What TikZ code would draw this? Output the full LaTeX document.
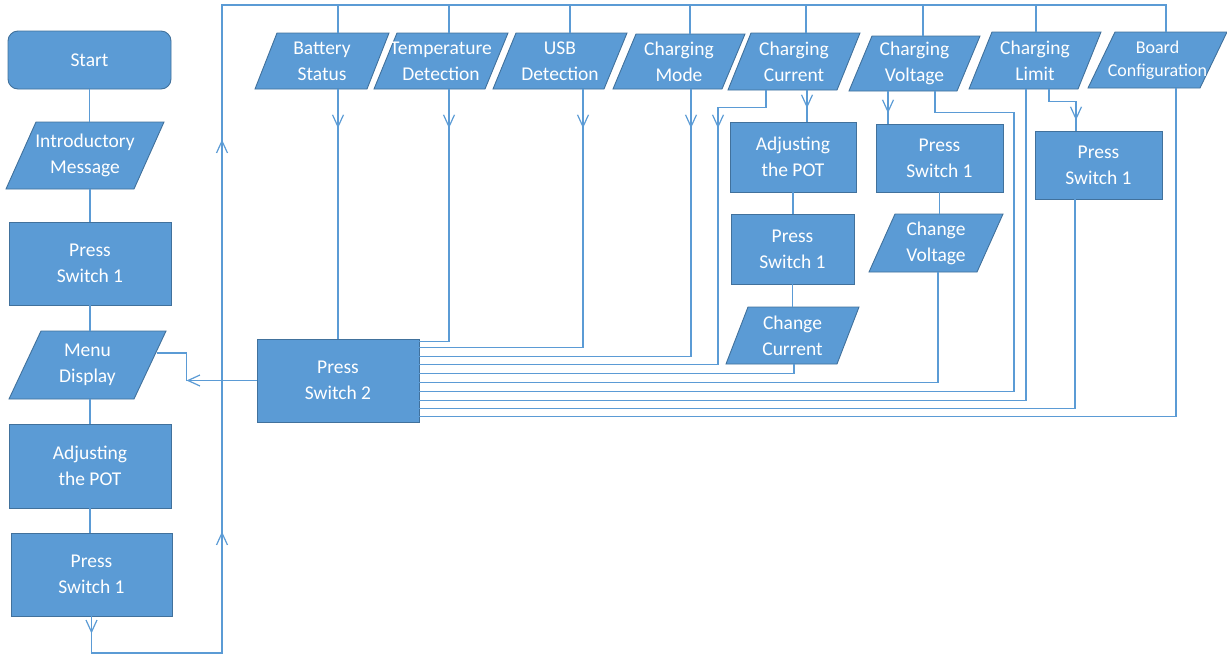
\documentclass[tikz,border=0pt]{standalone}
\usepackage{fontspec}
\setmainfont{Carlito}
\usetikzlibrary{arrows.meta,decorations.markings,calc}
\definecolor{boxfill}{HTML}{5B9BD5}
\definecolor{boxline}{HTML}{41719C}
\definecolor{linec}{HTML}{5B9BD5}
\tikzset{
  shapebox/.style={draw=boxline, fill=boxfill, line width=0.9pt},
  txt/.style={text=white, font=\fontsize{19.5}{26}\selectfont, align=center, inner sep=0pt},
  smalltxt/.style={text=white, font=\fontsize{18}{23}\selectfont, align=center, inner sep=0pt},
  rbox/.style={shapebox, txt, rectangle},
  conn/.style={draw=linec, line width=1.2pt},
  barb/.tip={Straight Barb[length=12pt,width=11pt]},
  midarrow/.style={postaction={decorate}, decoration={markings,
      mark=at position #1 with {\arrow[linec, line width=1.2pt]{barb}}}},
}
% parallelogram: name, cx, cy, W (total), s (slant), h, text, style
\newcommand{\pgm}[8]{%
  \filldraw[shapebox] (#2-#4/2, #3+#6/2) -- ++(#5,-#6) -- ++(#4-#5,0) -- ++(-#5,#6) -- cycle;
  \node[#8, minimum height=#6pt] (#1) at (#2,#3) {#7};
}
\begin{document}
\begin{tikzpicture}[x=1pt,y=-1pt]
\useasboundingbox (0,0) rectangle (1227,654);

% ---------- left column ----------
\node[rbox, rounded corners=10pt, minimum width=163pt, minimum height=58pt] (start) at (89.5,60) {Start};
\pgm{intro}{85}{155.5}{158}{30}{67}{Introductory\\Message}{txt}
\node[rbox, minimum width=162pt, minimum height=83pt] (ps1) at (90,263.5) {Press\\Switch 1};
\pgm{menu}{87.5}{365}{157}{32}{68}{Menu\\Display}{txt}
\node[rbox, minimum width=162pt, minimum height=84pt] (aj1) at (90,466) {Adjusting\\the POT};
\node[rbox, minimum width=161pt, minimum height=83pt] (ps1b) at (91.5,574.5) {Press\\Switch 1};

% ---------- Press Switch 2 ----------
\node[rbox, minimum width=162pt, minimum height=83pt] (ps2) at (338,380.5) {Press\\Switch 2};

% ---------- top row ----------
\pgm{bat}{322}{61}{134}{22}{56}{Battery\\Status}{txt}
\pgm{temp}{441}{61}{134}{23}{56}{Temperature\\Detection}{txt}
\pgm{usb}{560}{61}{134}{23}{56}{USB\\Detection}{txt}
\pgm{mode}{679}{61.5}{132}{23}{55}{Charging\\Mode}{txt}
\pgm{cur}{794}{61.5}{132}{23}{57}{Charging\\Current}{txt}
\pgm{volt}{914.5}{63.5}{131}{23}{55}{Charging\\Voltage}{txt}
\pgm{lim}{1035}{60.5}{132}{23}{57}{Charging\\Limit}{txt}
\pgm{board}{1157.5}{60}{139}{27}{56}{Board\\Configuration}{smalltxt}

% ---------- right column boxes ----------
\node[rbox, minimum width=126pt, minimum height=70pt] (aj2) at (793,157) {Adjusting\\the POT};
\node[rbox, minimum width=123pt, minimum height=70pt] (ps3) at (792.5,249) {Press\\Switch 1};
\pgm{cc}{792.5}{335.5}{133}{22}{57}{Change\\Current}{txt}
\node[rbox, minimum width=127pt, minimum height=68pt] (ps4) at (939.5,158) {Press\\Switch 1};
\pgm{cv}{936}{243}{134}{26}{58}{Change\\Voltage}{txt}
\node[rbox, minimum width=127pt, minimum height=68pt] (ps5) at (1098.5,165) {Press\\Switch 1};

% ---------- left column connectors ----------
\draw[conn] (start.south) -- (start.south |- intro.north);
\draw[conn] (ps1.north |- intro.south) -- (ps1.north);
\draw[conn] (ps1.south) -- (ps1.south |- menu.north);
\draw[conn] (aj1.north |- menu.south) -- (aj1.north);
\draw[conn] (aj1.south) -- (aj1.south |- ps1b.north);

% ---------- loop back to top ----------
\coordinate (lb) at (222,653);
\coordinate (lt) at (222,5);
\draw[conn, postaction={decorate}, decoration={markings,
    mark=at position 17pt with {\arrow[linec, line width=1.2pt]{barb}},
    mark=at position 288.5pt with {\arrow[linec, line width=1.2pt]{barb}},
    mark=at position 680.5pt with {\arrow[linec, line width=1.2pt]{barb}}}]
  (ps1b.south) |- (lb) -- (lt) -| ([xshift=8.5pt]board.north);
\draw[conn] ([xshift=16pt]bat.north) -- ([xshift=16pt]bat.north |- lt);
\draw[conn] ([xshift=8pt]temp.north) -- ([xshift=8pt]temp.north |- lt);
\draw[conn] ([xshift=10pt]usb.north) -- ([xshift=10pt]usb.north |- lt);
\draw[conn] ([xshift=11pt]mode.north) -- ([xshift=11pt]mode.north |- lt);
\draw[conn] ([xshift=12pt]cur.north) -- ([xshift=12pt]cur.north |- lt);
\draw[conn] ([xshift=8.5pt]volt.north) -- ([xshift=8.5pt]volt.north |- lt);
\draw[conn] ([xshift=1pt]lim.north) -- ([xshift=1pt]lim.north |- lt);

% ---------- Press Switch 2 to Menu Display ----------
\draw[conn, -{barb}] (ps2.west) -- ++(-70,0) coordinate (mc);
\draw[conn] (mc) |- ([xshift=69pt,yshift=12pt]menu.center);

% ---------- top row down to Press Switch 2 ----------
\draw[conn, midarrow=39pt] (ps2.north |- bat.south) -- (ps2.north);
\draw[conn, midarrow=39pt] ([xshift=8pt]temp.south) |- ([yshift=-3pt]ps2.north east);
\draw[conn, midarrow=39pt] ([xshift=23pt]usb.south) |- ([yshift=-9pt]ps2.north east);
\draw[conn, midarrow=39pt] ([xshift=12pt]mode.south) |- ([yshift=-18pt]ps2.north east);
\draw[conn, midarrow=86pt] ([xshift=-28pt]cur.south) -- ++(0,17) -- ++(-48,0) |- ([yshift=-26pt]ps2.north east);
\draw[conn, midarrow=18pt] ([xshift=13pt]cur.south) -- ([xshift=13pt]cur.south |- aj2.north);
\draw[conn] (aj2.south) -- (aj2.south |- ps3.north);
\draw[conn] (ps3.south) -- (ps3.south |- cc.north);
\draw[conn] ([xshift=1.5pt]cc.south) |- ([yshift=-35pt]ps2.north east);
\draw[conn, midarrow=22pt] ([xshift=-26.5pt]volt.south) -- ([xshift=-26.5pt]volt.south |- ps4.north);
\draw[conn] ([xshift=20.5pt]volt.south) -- ++(0,21) -- ++(79,0) |- ([yshift=-53pt]ps2.north east);
\draw[conn] (ps4.south) -- (ps4.south |- cv.north);
\draw[conn] ([xshift=2pt]cv.south) |- ([yshift=-44pt]ps2.north east);
\draw[conn] ([xshift=-9pt]lim.south) |- ([yshift=-62pt]ps2.north east);
\draw[conn, midarrow=58pt] ([xshift=14pt]lim.south) -- ++(0,12) -| ([xshift=-22.5pt]ps5.north);
\draw[conn] ([xshift=-23.5pt]ps5.south) |- ([yshift=-70pt]ps2.north east);
\draw[conn] ([xshift=18.5pt]board.south) |- ([yshift=-78pt]ps2.north east);
\end{tikzpicture}
\end{document}
